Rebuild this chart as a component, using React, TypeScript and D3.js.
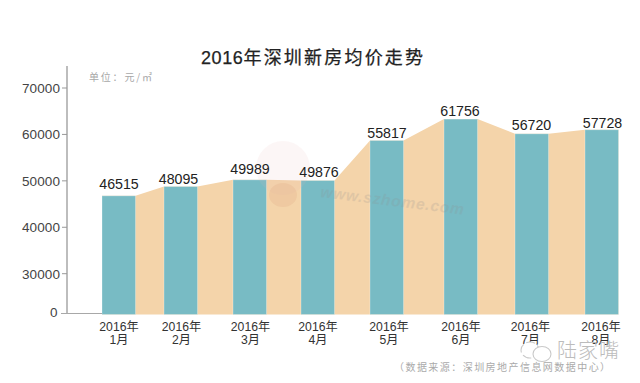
import React from "react";
import * as d3 from "d3";

const months = ["1月", "2月", "3月", "4月", "5月", "6月", "7月", "8月"];
const yearLabel = "2016年";
const priceLabels = [46515, 48095, 49989, 49876, 55817, 61756, 56720, 57728];
// Height of each bar as drawn, read against the left axis (the picture's bars are not true to their labels)
const drawnLevels = [46770, 48770, 50215, 50065, 58690, 63300, 60130, 61000];
const yTicks = [0, 30000, 40000, 50000, 60000, 70000];

const W = 640;
const H = 383;
const FONT = '"Liberation Sans", "Noto Sans CJK SC", sans-serif';
const CJK = '"Noto Sans CJK SC", "Liberation Sans", sans-serif';

const y = d3.scaleLinear().domain([0, 30000, 70000]).range([313, 273.7, 88]);
const idx = d3.range(8);
const barX = d3.scaleLinear().domain(idx).range([102, 164, 233, 301, 370, 444, 515, 585]);
const labelX = d3.scaleLinear().domain(idx).range([119, 181.5, 250.5, 318, 389, 461, 530.5, 601]);
const valueX = d3.scaleLinear().domain(idx).range([119, 178.5, 250, 319, 387, 460, 531.5, 602.5]);
const valueY = d3.scaleLinear().domain(idx).range([189, 184, 174, 176.5, 137.5, 115.5, 130, 128]);
const barW = 33.5;
const baseY = 314.5;

const edges = drawnLevels.flatMap((v, i) => [
  { x: barX(i), v },
  { x: barX(i) + barW, v },
]);
const area = d3.area<{ x: number; v: number }>()
  .x((d) => d.x)
  .y0(baseY)
  .y1((d) => y(d.v))
  .curve(d3.curveLinear);

export default function App() {
  return (
    <svg width={W} height={H} viewBox={`0 0 ${W} ${H}`}
      style={{ position: "fixed", left: 0, top: 0, background: "#fff" }}>
      <text x={201} y={64} fontFamily={FONT} fontSize={18} fill="#222" stroke="#222" strokeWidth={0.25}>
        <tspan letterSpacing={0.6}>2016</tspan>
        <tspan fontFamily={CJK} letterSpacing={2.2}>年深圳新房均价走势</tspan>
      </text>
      <text x={89} y={80.5} fontFamily={CJK} fontSize={10} fill="#a8a8a8" letterSpacing={1.8}>单位：元/㎡</text>

      <path d={area(edges) ?? ""} fill="#f4d4aa" />

      {priceLabels.map((p, i) => (
        <rect key={p} x={barX(i)} y={y(drawnLevels[i])} width={barW} height={baseY - y(drawnLevels[i])} fill="#78bbc4" stroke="#fff" strokeOpacity={0.35} strokeWidth={0.8} />
      ))}

      {/* faint watermark */}
      <circle cx={283} cy={168} r={27} fill="#e8b4b8" opacity={0.12} />
      <ellipse cx={283} cy={195} rx={14} ry={12} fill="#dca27e" opacity={0.2} />
      <text x={320} y={197} fontFamily={FONT} fontSize={15.5} fontStyle="italic" fontWeight={700} fill="#8f8f8f" opacity={0.2}
        transform="rotate(7 320 197)" letterSpacing={0.8}>www.szhome.com</text>

      <line x1={67} x2={67} y1={66} y2={313.5} stroke="#bdbdbd" strokeWidth={2} />
      <line x1={61} x2={102} y1={313.5} y2={313.5} stroke="#a8a8a8" strokeWidth={1} />
      {yTicks.map((t) => (
        <g key={t}>
          {t > 0 && <line x1={62} x2={67} y1={y(t)} y2={y(t)} stroke="#999" strokeWidth={1} />}
          <text x={t > 0 ? 60 : 57.5} y={y(t) + (t > 0 ? 5 : 4)} textAnchor="end" fontFamily={FONT} fontSize={13.5} fill="#444" letterSpacing={0.1}>{t}</text>
        </g>
      ))}

      {priceLabels.map((p, i) => (
        <text key={p} x={valueX(i)} y={valueY(i)} textAnchor="middle" fontFamily={FONT} fontSize={14.2} fill="#222">{p}</text>
      ))}

      {months.map((m, i) => (
        <g key={m} fontFamily={FONT} fill="#333" textAnchor="middle" fontSize={12.2}>
          <text x={labelX(i)} y={331}>{yearLabel}</text>
          <text x={labelX(i)} y={344}>{m}</text>
        </g>
      ))}

      {/* publisher mark */}
      <g fill="#fff" stroke="#c9c9c9" strokeWidth={1.1}>
        <ellipse cx={530} cy={350} rx={9} ry={8} strokeDasharray="9 3" />
        <ellipse cx={542} cy={354} rx={9} ry={7.5} />
      </g>
      <text x={557} y={358} fontFamily={CJK} fontSize={20} fontWeight={300} fill="#bcbcbc" letterSpacing={1}>陆家嘴</text>
      <text x={394} y={371} fontFamily={CJK} fontSize={10} fill="#aaa" letterSpacing={1.45}>（数据来源：深圳房地产信息网数据中心）</text>
    </svg>
  );
}
